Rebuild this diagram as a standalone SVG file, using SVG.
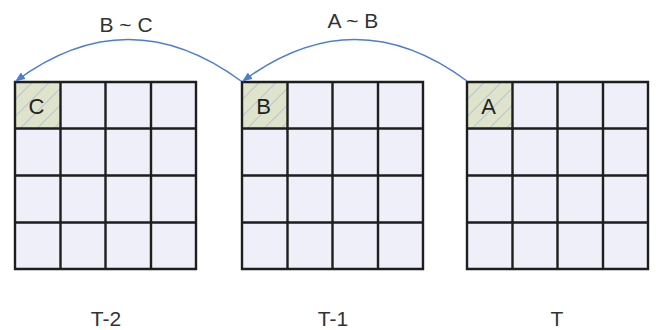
<svg xmlns="http://www.w3.org/2000/svg" width="656" height="330" viewBox="0 0 656 330">
<style>
.cell{fill:#eeeff8;}
.hl{fill:#dfe3c9;}
.grid{fill:none;stroke:#1e1e1e;stroke-width:2.4;}
.arc{fill:none;stroke:#4a7fd0;stroke-width:1.5;}
.t{font-family:"Liberation Sans",Arial,sans-serif;fill:#333;text-anchor:middle;}
.c{font-family:"Liberation Sans",Arial,sans-serif;fill:#222;text-anchor:middle;font-size:22px;}
</style>
<defs>
<pattern id="hatch" patternUnits="userSpaceOnUse" width="12" height="12" patternTransform="rotate(45)">
<line x1="0" y1="0" x2="0" y2="12" stroke="#9db8e8" stroke-width="1.5"/>
</pattern>
<marker id="arr" markerWidth="10" markerHeight="8" refX="9" refY="4" orient="auto" markerUnits="userSpaceOnUse">
<path d="M0,0 L10,4 L0,8 z" fill="#4a7fd0"/>
</marker>
</defs>
<g id="grid-T2" transform="translate(15,82)">
<rect class="cell" x="0" y="0" width="181" height="187"/>
<rect class="hl" x="0" y="0" width="45.5" height="46.5"/>
<rect fill="url(#hatch)" x="0" y="0" width="45.5" height="46.5"/>
<path class="grid" d="M0,0H181V187H0Z M45.5,0V187 M90.5,0V187 M136,0V187 M0,46.5H181 M0,93.5H181 M0,140.5H181"/>
<text class="c" x="21.5" y="32">C</text>
</g>
<g id="grid-T1" transform="translate(242,82)">
<rect class="cell" x="0" y="0" width="181" height="187"/>
<rect class="hl" x="0" y="0" width="45.5" height="46.5"/>
<rect fill="url(#hatch)" x="0" y="0" width="45.5" height="46.5"/>
<path class="grid" d="M0,0H181V187H0Z M45.5,0V187 M90.5,0V187 M136,0V187 M0,46.5H181 M0,93.5H181 M0,140.5H181"/>
<text class="c" x="21.5" y="32">B</text>
</g>
<g id="grid-T" transform="translate(467,82)">
<rect class="cell" x="0" y="0" width="181" height="187"/>
<rect class="hl" x="0" y="0" width="45.5" height="46.5"/>
<rect fill="url(#hatch)" x="0" y="0" width="45.5" height="46.5"/>
<path class="grid" d="M0,0H181V187H0Z M45.5,0V187 M90.5,0V187 M136,0V187 M0,46.5H181 M0,93.5H181 M0,140.5H181"/>
<text class="c" x="21.5" y="32">A</text>
</g>
<g id="connectors">
<path class="arc" d="M241,81 Q128,-2 16,81" marker-end="url(#arr)"/>
<path class="arc" d="M467,81 Q355,-2 243,81" marker-end="url(#arr)"/>
</g>
<g id="labels">
<text class="t" x="126" y="32" font-size="21">B ~ C</text>
<text class="t" x="353" y="28" font-size="21">A ~ B</text>
<text class="t" x="106" y="326" font-size="21">T-2</text>
<text class="t" x="333" y="326" font-size="21">T-1</text>
<text class="t" x="557" y="326" font-size="21">T</text>
</g>
</svg>
